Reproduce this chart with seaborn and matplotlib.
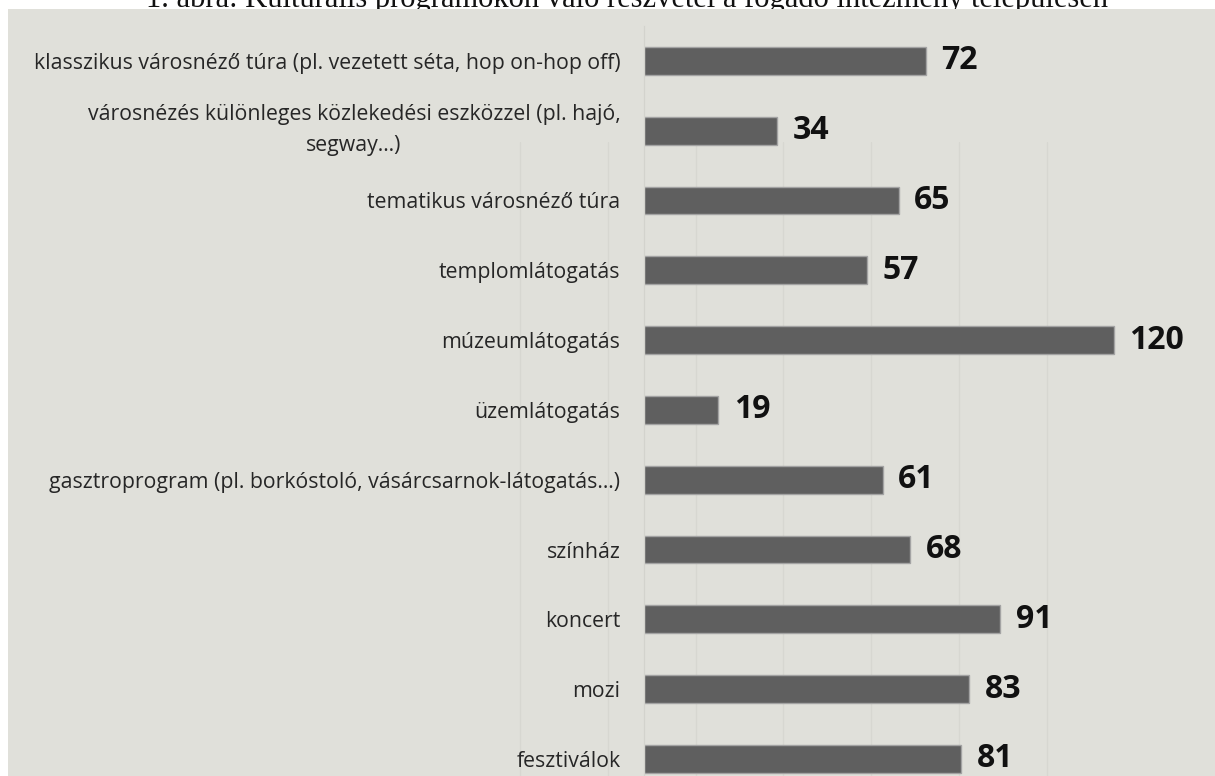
import matplotlib
matplotlib.use("Agg")
import matplotlib.pyplot as plt
from matplotlib.patches import Rectangle
from matplotlib.transforms import ScaledTranslation
import seaborn as sns
import pandas as pd

# Programme categories and number of respondents
categories = [
    "klasszikus városnéző túra (pl. vezetett séta, hop on-hop off)",
    "városnézés különleges közlekedési eszközzel (pl. hajó,\nsegway…)",
    "tematikus városnéző túra",
    "templomlátogatás",
    "múzeumlátogatás",
    "üzemlátogatás",
    "gasztroprogram (pl. borkóstoló, vásárcsarnok-látogatás…)",
    "színház",
    "koncert",
    "mozi",
    "fesztiválok",
]
counts = [72, 34, 65, 57, 120, 19, 61, 68, 91, 83, 81]

title = "1. ábra: Kulturális programokon való részvétel a fogadó intézmény településén"

df = pd.DataFrame({"program": categories, "n": counts})

W, H = 1215, 776
DPI = 100
BG = "#E0E0DA"
BAR = "#5F5F5F"

sns.set_theme(style="white")
plt.rcParams["font.family"] = ["Open Sans", "DejaVu Sans"]

fig = plt.figure(figsize=(W / DPI, H / DPI), dpi=DPI)
fig.patch.set_facecolor("white")

# Title (its upper part sits behind the chart panel edge)
fig.text(627 / W, 1 - 7 / H, title, ha="center", va="baseline",
         fontsize=22, family=["Liberation Serif", "DejaVu Serif"], color="#111111",
         zorder=0)

# Chart panel
fig.add_artist(Rectangle((8 / W, 0), 1 - 8 / W, 1 - 9 / H,
                         transform=fig.transFigure, facecolor=BG,
                         edgecolor="none", zorder=1))

# Faint vertical grid behind the bars
gx0, gstep = 520, 87.83
bg = fig.add_axes([(gx0 - gstep / 2) / W, 0, 7 * gstep / W, (H - 142) / H])
bg.set_zorder(2)
bg.patch.set_alpha(0)
bg.set_xlim(-0.5, 6.5)
bg.set_xticks(range(7))
bg.set_yticks([])
bg.grid(axis="x", color="#D7D7D1", linewidth=0.9)
bg.tick_params(axis="x", length=0, labelbottom=False)
for s in bg.spines.values():
    s.set_visible(False)

# Main bar axes
x0 = 644
px_per_unit = 3.917
row = 69.8
top = 26
ax = fig.add_axes([x0 / W, 0, 1 - x0 / W, 1 - top / H])
ax.set_zorder(3)
ax.patch.set_alpha(0)

sns.barplot(data=df, x="n", y="program", orient="h", color=BAR,
            saturation=1, width=0.4, edgecolor="#A3A3A3", linewidth=1,
            ax=ax)

ax.set_xlim(0, (W - x0) / px_per_unit)
ax.set_ylim(-0.5 + (H - top) / row, -0.5)
ax.set_xlabel("")
ax.set_ylabel("")
ax.set_xticks([])

for s in ["top", "right", "bottom"]:
    ax.spines[s].set_visible(False)
ax.spines["left"].set_color("#D3D3CD")
ax.spines["left"].set_linewidth(0.9)

ax.tick_params(axis="y", length=0, pad=17, labelsize=15.3, labelcolor="#262626")
for lab in ax.get_yticklabels():
    lab.set_multialignment("center")
    lab.set_linespacing(1.65)
    if "\n" in lab.get_text():
        # nudge the wrapped label up a little
        lab.set_transform(lab.get_transform() +
                          ScaledTranslation(0, 6 / 72, fig.dpi_scale_trans))

ax.bar_label(ax.containers[0], labels=[str(v) for v in counts], padding=11,
             fontsize=23, fontweight="bold", color="#111111")

fig.savefig("out.png", dpi=DPI, facecolor="white")
